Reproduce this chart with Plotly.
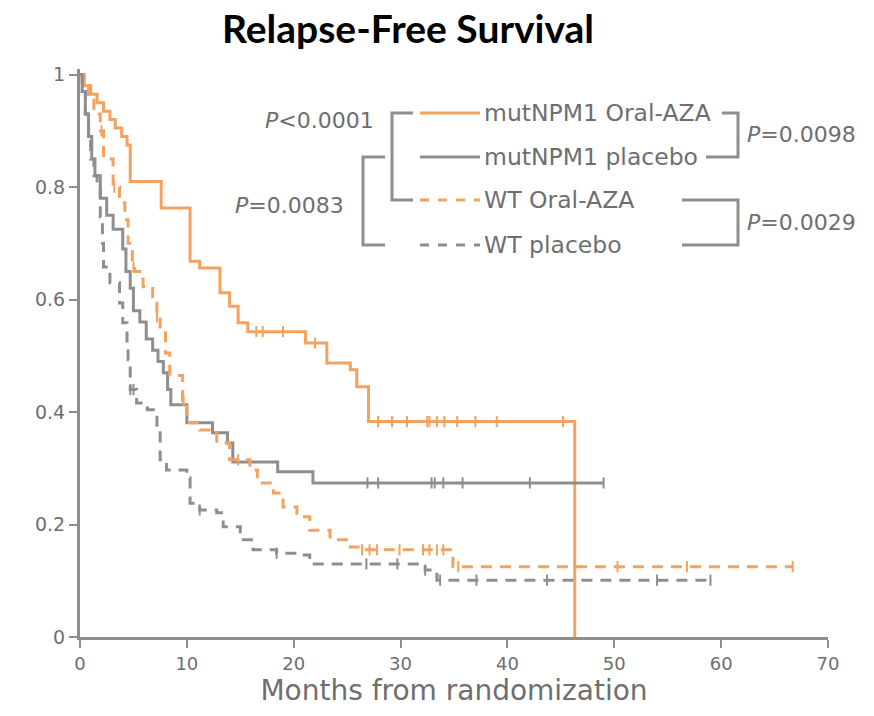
import plotly.graph_objects as go

# ---------------- data ----------------
# mutNPM1 Oral-AZA (orange, solid)
mo_t = [0, 0.4, 1.0, 1.6, 2.2, 2.8, 3.3, 3.9, 4.4, 4.7, 7.6, 10.3, 11.2, 13.1, 14.0, 14.8, 15.7,
        21.1, 23.1, 25.3, 25.9, 27.0, 46.3]
mo_s = [1, 0.98, 0.965, 0.95, 0.935, 0.92, 0.905, 0.89, 0.875, 0.81, 0.763, 0.668, 0.656, 0.612,
        0.588, 0.559, 0.543, 0.523, 0.487, 0.475, 0.445, 0.383, 0.0]
mo_cens = [16.5, 17.1, 19.0, 22.0, 27.9, 29.2, 30.6, 32.5, 32.7, 33.4, 34.1, 35.3, 37.0, 39.0, 45.2]

# mutNPM1 placebo (grey, solid)
mp_t = [0, 0.2, 0.5, 0.8, 1.1, 1.4, 1.9, 2.5, 3.1, 4.0, 4.3, 4.7, 5.0, 5.6, 6.2, 6.8, 7.3, 7.8,
        8.2, 8.5, 10.0, 12.4, 13.8, 14.3, 18.5, 21.8, 49.0]
mp_s = [1, 0.97, 0.93, 0.89, 0.85, 0.82, 0.78, 0.75, 0.725, 0.69, 0.65, 0.62, 0.58, 0.56, 0.53,
        0.51, 0.49, 0.47, 0.44, 0.413, 0.381, 0.363, 0.345, 0.311, 0.294, 0.274, 0.274]
mp_cens = [26.9, 27.9, 32.9, 33.2, 34.0, 35.8, 42.1, 49.0]

# WT Oral-AZA (orange, dashed)
wo_t = [0, 0.3, 0.8, 1.3, 1.9, 2.2, 3.1, 3.7, 4.2, 4.5, 4.9, 5.1, 5.9, 6.8, 7.2, 7.5, 8.0, 8.4,
        9.6, 10.0, 11.2, 12.8, 14.0, 15.9, 16.6, 18.1, 19.0, 20.3, 21.5, 23.4, 25.3, 26.2, 34.9, 66.7]
wo_s = [1, 0.98, 0.955, 0.93, 0.90, 0.85, 0.80, 0.772, 0.742, 0.70, 0.658, 0.65, 0.623, 0.60,
        0.569, 0.541, 0.505, 0.465, 0.42, 0.381, 0.368, 0.345, 0.315, 0.297, 0.274, 0.256, 0.231,
        0.214, 0.19, 0.173, 0.16, 0.155, 0.125, 0.125]
wo_cens = [2.0, 3.2, 5.0, 7.2, 9.7, 14.8, 26.4, 27.1, 27.8, 29.9, 32.1, 32.7, 33.4, 34.0, 35.4,
           46.3, 50.3, 56.8, 66.7]

# WT placebo (grey, dashed)
wp_t = [0, 0.2, 0.5, 0.8, 1.0, 1.3, 1.6, 1.9, 2.1, 2.2, 2.8, 3.7, 4.0, 4.4, 4.5, 4.7, 5.3, 6.3,
        7.2, 7.5, 8.1, 10.0, 10.3, 11.2, 12.8, 13.4, 15.0, 16.2, 18.4, 20.3, 21.5, 32.3, 33.4, 59.0]
wp_s = [1, 0.97, 0.93, 0.89, 0.85, 0.82, 0.80, 0.747, 0.70, 0.658, 0.63, 0.594, 0.559, 0.523,
        0.493, 0.44, 0.416, 0.404, 0.363, 0.315, 0.297, 0.283, 0.238, 0.226, 0.221, 0.196, 0.173,
        0.155, 0.149, 0.146, 0.13, 0.119, 0.101, 0.101]
wp_cens = [4.7, 5.0, 11.2, 18.4, 26.8, 29.7, 32.3, 33.7, 37.1, 43.7, 54.0, 59.0]

series_names = ["mutNPM1 Oral-AZA", "mutNPM1 placebo", "WT Oral-AZA", "WT placebo"]
x_ticks = [0, 10, 20, 30, 40, 50, 60, 70]
y_ticks = [0, 0.2, 0.4, 0.6, 0.8, 1]
y_tick_text = ["0", "0.2", "0.4", "0.6", "0.8", "1"]
p_values = ["<i>P</i>&lt;0.0001", "<i>P</i>=0.0083", "<i>P</i>=0.0098", "<i>P</i>=0.0029"]

ORANGE = "#F3A25F"
GREY = "#8E8E8E"
TXT = "#6E6E6E"
FONT = "DejaVu Sans"


def surv_at(ts, ss, t):
    v = ss[0]
    for ti, si in zip(ts, ss):
        if ti <= t:
            v = si
        else:
            break
    return v


fig = go.Figure()
specs = [
    (mo_t, mo_s, mo_cens, ORANGE, "solid"),
    (mp_t, mp_s, mp_cens, GREY, "solid"),
    (wo_t, wo_s, wo_cens, ORANGE, "11px,8px"),
    (wp_t, wp_s, wp_cens, GREY, "11px,8px"),
]
for name, (ts, ss, cens, col, dash) in zip(series_names, specs):
    fig.add_trace(go.Scatter(x=ts, y=ss, mode="lines", line=dict(color=col, width=3, dash=dash, shape="hv"),
                             name=name, showlegend=False, hoverinfo="skip"))
    fig.add_trace(go.Scatter(x=cens, y=[surv_at(ts, ss, c) for c in cens], mode="markers",
                             marker=dict(symbol="line-ns-open", size=8, color=col,
                                         line=dict(color=col, width=2)),
                             showlegend=False, hoverinfo="skip"))

# ---------------- layout geometry ----------------
L, R, T, B = 80, 46, 69, 79
W, H = 874, 716
PW, PH = W - L - R, H - T - B


def px(xp):
    return (xp - L) / PW


def py(yp):
    return (H - B - yp) / PH


shapes = []
annotations = []

# legend rows
rows = [113, 157, 200, 245]
row_style = [(ORANGE, "solid"), (GREY, "solid"), (ORANGE, "dash"), (GREY, "dash")]
for yr, (col, dash), name in zip(rows, row_style, series_names):
    shapes.append(dict(type="line", xref="paper", yref="paper", x0=px(420), x1=px(480), y0=py(yr), y1=py(yr),
                       line=dict(color=col, width=3, dash=dash)))
    annotations.append(dict(xref="paper", yref="paper", x=px(482), y=py(yr), text=name, showarrow=False,
                            xanchor="left", yanchor="middle", font=dict(family=FONT, size=23.5, color=TXT)))


def bracket(xv, xa, y0, y1):
    shapes.append(dict(type="path", xref="paper", yref="paper",
                       path=f"M {px(xa)} {py(y0)} L {px(xv)} {py(y0)} L {px(xv)} {py(y1)} L {px(xa)} {py(y1)}",
                       line=dict(color=GREY, width=3)))


# left brackets
bracket(392, 413, rows[0], rows[2])
bracket(363, 385, rows[1], rows[3])
# right brackets
shapes.append(dict(type="path", xref="paper", yref="paper",
                   path=f"M {px(722)} {py(rows[0])} L {px(738)} {py(rows[0])} L {px(738)} {py(rows[1])} L {px(706)} {py(rows[1])}",
                   line=dict(color=GREY, width=3)))
shapes.append(dict(type="path", xref="paper", yref="paper",
                   path=f"M {px(682)} {py(rows[2])} L {px(738)} {py(rows[2])} L {px(738)} {py(rows[3])} L {px(682)} {py(rows[3])}",
                   line=dict(color=GREY, width=3)))

pfont = dict(family=FONT, size=22, color=TXT)
annotations += [
    dict(xref="paper", yref="paper", x=px(376), y=py(120), text=p_values[0], showarrow=False,
         xanchor="right", yanchor="middle", font=pfont),
    dict(xref="paper", yref="paper", x=px(346), y=py(205), text=p_values[1], showarrow=False,
         xanchor="right", yanchor="middle", font=pfont),
    dict(xref="paper", yref="paper", x=px(745), y=py(135), text=p_values[2], showarrow=False,
         xanchor="left", yanchor="middle", font=pfont),
    dict(xref="paper", yref="paper", x=px(745), y=py(222), text=p_values[3], showarrow=False,
         xanchor="left", yanchor="middle", font=pfont),
    dict(xref="paper", yref="paper", x=px(408), y=py(28), text="<b>Relapse-Free Survival</b>", showarrow=False,
         xanchor="center", yanchor="middle", font=dict(family="Lato", size=39, color="#000000")),
]

fig.update_layout(
    width=W, height=H,
    margin=dict(l=L, r=R, t=T, b=B),
    paper_bgcolor="white", plot_bgcolor="white",
    shapes=shapes, annotations=annotations,
    xaxis=dict(range=[0, 70], tickvals=x_ticks, showgrid=False, zeroline=False,
               showline=True, linecolor=GREY, linewidth=3, ticks="outside", ticklen=8, tickwidth=2,
               tickcolor=GREY, tickfont=dict(family=FONT, size=18, color=TXT),
               title=dict(text="Months from randomization", font=dict(family=FONT, size=28, color=TXT),
                          standoff=2)),
    yaxis=dict(range=[0, 1.01], tickvals=y_ticks, ticktext=y_tick_text, showgrid=False, zeroline=False,
               showline=True, linecolor=GREY, linewidth=3, ticks="outside", ticklen=8, tickwidth=2,
               tickcolor=GREY, tickfont=dict(family=FONT, size=19, color=TXT)),
)

fig.write_html("out.html")
